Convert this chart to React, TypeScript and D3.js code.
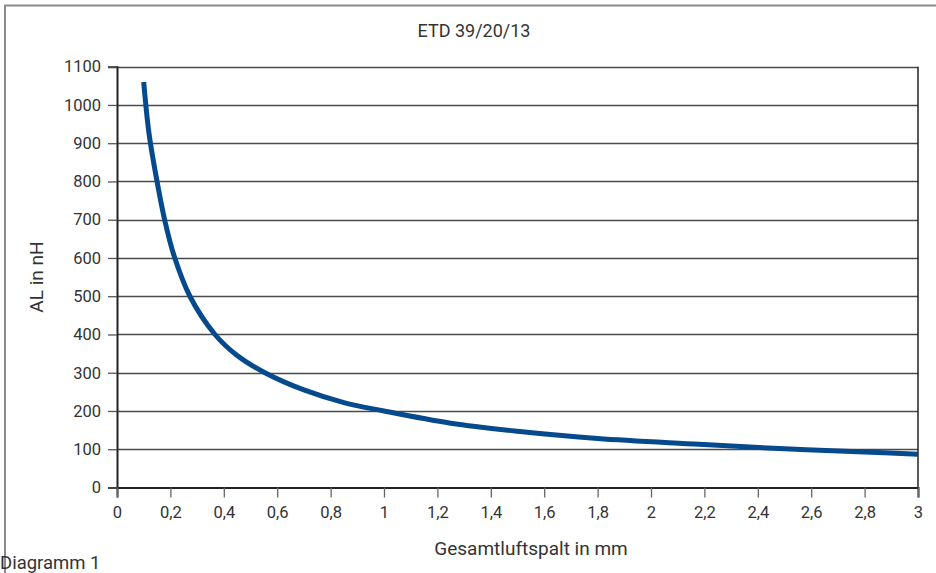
import React, { useEffect, useRef } from 'react';
import * as d3 from 'd3';

// values
const gap = [0.1, 0.12, 0.15, 0.18, 0.214, 0.273, 0.367, 0.45, 0.554, 0.7, 0.85, 1.0, 1.25, 1.5, 1.8, 2.18, 2.5, 2.8, 3.0];
const al = [1060, 925, 800, 695, 605, 500, 400, 345, 300, 255, 222, 200, 168, 147, 128, 113, 101, 93, 87];

const xTicks = [0, 0.2, 0.4, 0.6, 0.8, 1, 1.2, 1.4, 1.6, 1.8, 2, 2.2, 2.4, 2.6, 2.8, 3];
const yTicks = [0, 100, 200, 300, 400, 500, 600, 700, 800, 900, 1000, 1100];

const title = 'ETD 39/20/13';
const xLabel = 'Gesamtluftspalt in mm';
const yLabel = 'AL in nH';
const caption = 'Diagramm 1';

const App: React.FC = () => {
  const svgRef = useRef<SVGSVGElement>(null);

  useEffect(() => {
    if (!svgRef.current) return;
    const width = 936;
    const height = 573;
    const margin = { top: 66.7, right: 18, bottom: 85.5, left: 117 };
    const font = 'Roboto, sans-serif';

    const svg = d3.select(svgRef.current);
    svg.selectAll('*').remove();

    const x = d3.scaleLinear().domain([0, 3]).range([margin.left, width - margin.right]);
    const y = d3.scaleLinear().domain([0, 1100]).range([height - margin.bottom, margin.top]);

    // outer frame
    svg.append('path')
      .attr('d', `M5,${height + 5} V5.5 H${width + 5}`)
      .attr('fill', 'none')
      .attr('stroke', '#8a8a8a')
      .attr('stroke-width', 2);

    svg.append('text')
      .attr('x', 474)
      .attr('y', 37)
      .attr('text-anchor', 'middle')
      .attr('font-family', font)
      .attr('font-size', 18)
      .attr('fill', '#333')
      .text(title);

    // grid
    svg.append('g')
      .selectAll('line')
      .data(yTicks.slice(1))
      .join('line')
      .attr('x1', margin.left)
      .attr('x2', width - margin.right)
      .attr('y1', d => Math.round(y(d)) + 0.5)
      .attr('y2', d => Math.round(y(d)) + 0.5)
      .attr('stroke', '#4a4a4a')
      .attr('stroke-width', 1.3);

    // right border
    svg.append('line')
      .attr('x1', width - margin.right)
      .attr('x2', width - margin.right)
      .attr('y1', margin.top)
      .attr('y2', height - margin.bottom)
      .attr('stroke', '#222')
      .attr('stroke-width', 1.5);

    // y axis
    const yAxis = svg.append('g')
      .attr('transform', `translate(${margin.left},0)`)
      .call(d3.axisLeft(y).tickValues(yTicks).tickSize(9).tickPadding(7).tickFormat(d => String(d)));
    yAxis.select('.domain').attr('stroke', '#222').attr('stroke-width', 2);
    yAxis.selectAll('.tick line').attr('stroke', '#555').attr('stroke-width', 1.3);
    yAxis.selectAll('text')
      .attr('font-family', font)
      .attr('font-size', 16.5)
      .attr('fill', '#333');

    // x axis
    const xAxis = svg.append('g')
      .attr('transform', `translate(0,${height - margin.bottom})`)
      .call(d3.axisBottom(x).tickValues(xTicks).tickSize(10).tickPadding(9)
        .tickFormat(d => String(d).replace('.', ',')));
    xAxis.select('.domain').attr('stroke', '#222').attr('stroke-width', 2);
    xAxis.selectAll('.tick line').attr('stroke', '#666').attr('stroke-width', 1.3);
    xAxis.selectAll('text')
      .attr('font-family', font)
      .attr('font-size', 16.5)
      .attr('fill', '#333');

    // curve
    const line = d3.line<number>()
      .curve(d3.curveCatmullRom.alpha(0.5))
      .x((_, i) => x(gap[i]))
      .y(d => y(d));

    svg.append('path')
      .datum(al)
      .attr('fill', 'none')
      .attr('stroke', '#064a8e')
      .attr('stroke-width', 5)
      .attr('d', line);

    svg.append('text')
      .attr('x', 531)
      .attr('y', 555)
      .attr('text-anchor', 'middle')
      .attr('font-family', font)
      .attr('font-size', 19)
      .attr('fill', '#333')
      .text(xLabel);

    svg.append('text')
      .attr('transform', `translate(43,${(margin.top + height - margin.bottom) / 2}) rotate(-90)`)
      .attr('text-anchor', 'middle')
      .attr('font-family', font)
      .attr('font-size', 19)
      .attr('fill', '#333')
      .text(yLabel);

    svg.append('text')
      .attr('x', 0)
      .attr('y', 569)
      .attr('font-family', font)
      .attr('font-size', 18.5)
      .attr('fill', '#333')
      .text(caption);
  }, []);

  return (
    <div style={{ position: 'fixed', left: 0, top: 0, width: 936, height: 573, background: '#fff' }}>
      <svg ref={svgRef} width={936} height={573} style={{ display: 'block' }} />
    </div>
  );
};

export default App;
